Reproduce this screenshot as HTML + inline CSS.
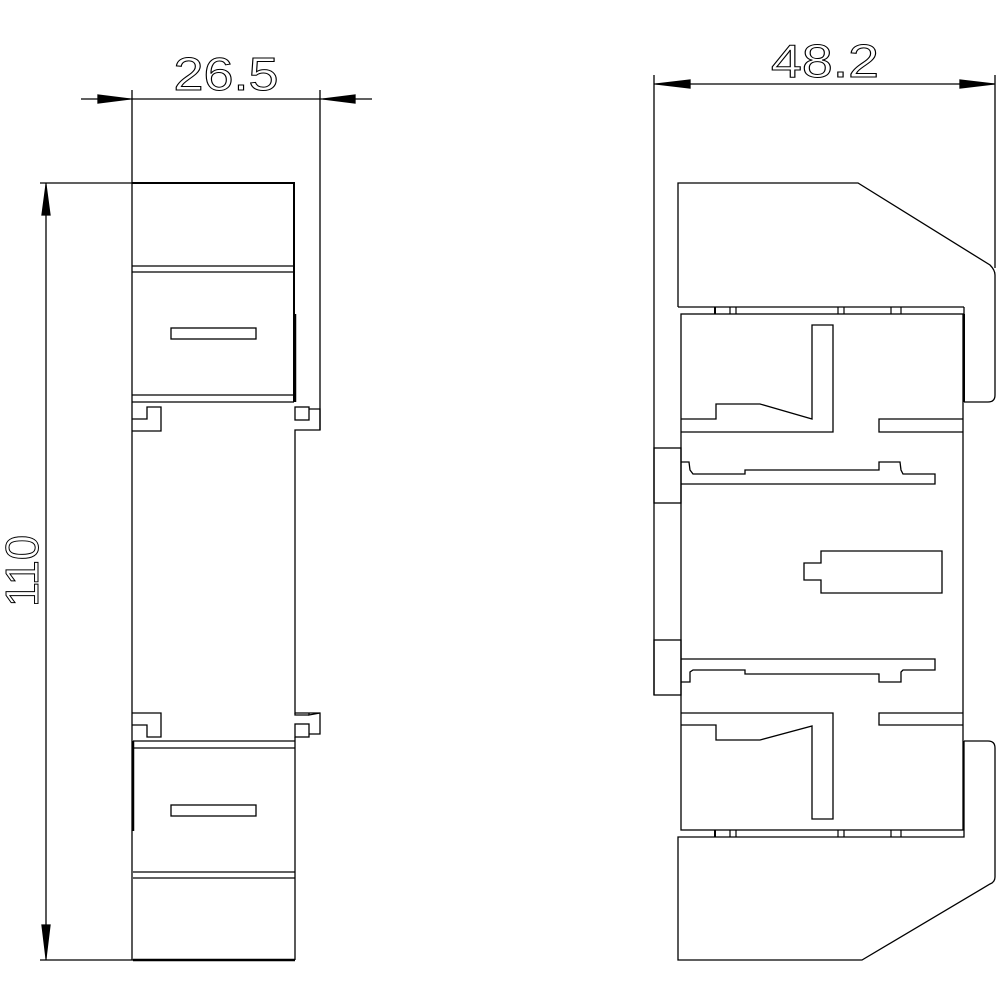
<!DOCTYPE html>
<html><head><meta charset="utf-8"><style>html,body{margin:0;padding:0;background:#fff}svg{display:block}</style></head>
<body>
<svg width="1000" height="1000" viewBox="0 0 1000 1000" xmlns="http://www.w3.org/2000/svg" fill="none" stroke="#000" stroke-width="1.3">
<!-- LEFT VIEW dims -->
<line x1="81" y1="99" x2="372" y2="99"/>
<line x1="132" y1="90" x2="132" y2="960"/>
<line x1="320" y1="90" x2="320" y2="430"/>
<polygon points="98,95 130,99 98,103" fill="#000"/>
<polygon points="355,95 323,99 355,103" fill="#000"/>
<text x="226" y="90" font-family="Liberation Sans, sans-serif" font-size="46" text-anchor="middle" textLength="105" lengthAdjust="spacingAndGlyphs" fill="none" stroke="#000" stroke-width="1">26.5</text>
<line x1="40" y1="183" x2="132" y2="183"/>
<line x1="40" y1="960" x2="133" y2="960"/>
<line x1="46" y1="183" x2="46" y2="960"/>
<polygon points="42,215 46,185 50,215" fill="#000"/>
<polygon points="42,925 46,958 50,925" fill="#000"/>
<text transform="translate(38,571) rotate(-90)" x="0" y="0" font-family="Liberation Sans, sans-serif" font-size="46" text-anchor="middle" textLength="72" lengthAdjust="spacingAndGlyphs" fill="none" stroke="#000" stroke-width="1">110</text>
<!-- left body -->
<polyline points="132,183 294,183 294,402" stroke-width="2"/>
<line x1="132" y1="266" x2="294" y2="266"/>
<line x1="132" y1="272" x2="294" y2="272"/>
<rect x="171" y="328" width="85" height="11"/>
<line x1="132" y1="395" x2="294" y2="395"/>
<line x1="132" y1="402" x2="294" y2="402"/>
<line x1="295" y1="314" x2="295" y2="402" stroke-width="2.5"/>
<polyline points="132,419 147,419 147,407 161,407 161,431 132,431"/>
<rect x="295" y="407" width="14" height="13"/>
<polyline points="309,409 320,409 320,430 295,430 295,713 309,713"/>
<polyline points="132,713 161,713 161,737 147,737 147,725 132,725"/>
<polyline points="309,713 309,715 320,713"/>
<polyline points="309,713 320,713 320,734 309,734"/>
<polyline points="295,713 295,715 309,715"/>
<rect x="295" y="724" width="14" height="13"/>
<line x1="133" y1="741" x2="295" y2="741"/>
<line x1="133" y1="748" x2="295" y2="748"/>
<line x1="295" y1="737" x2="295" y2="960"/>
<line x1="133" y1="741" x2="133" y2="831" stroke-width="2.5"/>
<rect x="171" y="805" width="85" height="11"/>
<line x1="133" y1="872" x2="295" y2="872"/>
<line x1="133" y1="878" x2="295" y2="878"/>
<line x1="133" y1="960" x2="295" y2="960" stroke-width="2.5"/>
<!-- RIGHT VIEW dims -->
<line x1="654" y1="84" x2="995" y2="84"/>
<line x1="654" y1="75" x2="654" y2="695"/>
<line x1="995" y1="75" x2="995" y2="268"/>
<polygon points="690,80 656,84 690,88" fill="#000"/>
<polygon points="960,80 994,84 960,88" fill="#000"/>
<text x="825" y="77" font-family="Liberation Sans, sans-serif" font-size="46" text-anchor="middle" textLength="108" lengthAdjust="spacingAndGlyphs" fill="none" stroke="#000" stroke-width="1">48.2</text>
<!-- top block -->
<path d="M678,307 L678,183 L858,183 L990,265 Q995,270 995,275 L995,395 Q995,402 988,402 L964,402"/>
<line x1="678" y1="307" x2="964" y2="307"/>
<line x1="964" y1="307" x2="964" y2="402"/>
<g stroke-width="1.2">
<line x1="715" y1="307" x2="715" y2="314" stroke-width="2"/><line x1="730" y1="307" x2="730" y2="314"/><line x1="736" y1="307" x2="736" y2="314"/>
<line x1="838" y1="307" x2="838" y2="314"/><line x1="844" y1="307" x2="844" y2="314"/>
<line x1="891" y1="307" x2="891" y2="314"/><line x1="901" y1="307" x2="901" y2="314"/>
<line x1="715" y1="830" x2="715" y2="837" stroke-width="2"/><line x1="730" y1="830" x2="730" y2="837"/><line x1="736" y1="830" x2="736" y2="837"/>
<line x1="838" y1="830" x2="838" y2="837"/><line x1="844" y1="830" x2="844" y2="837"/>
<line x1="891" y1="830" x2="891" y2="837"/><line x1="901" y1="830" x2="901" y2="837"/>
</g>
<rect x="681" y="314" width="282" height="516"/>
<rect x="654" y="448" width="27" height="55"/>
<rect x="654" y="640" width="27" height="55"/>
<polyline points="681,419 716,404 716,404" stroke="none"/>
<polyline points="681,419 716,419 716,404 760,404 812,419 812,325 833,325 833,432 681,432"/>
<polyline points="963,419 879,419 879,432 963,432"/>
<polyline points="681,462 689,462 690,470 693,474 745,474 745,470 879,470 879,462 900,462 901,470 903,474 935,474 935,484 681,484"/>
<polygon points="821,551 942,551 942,593 821,593 821,580 804,580 804,563 821,563"/>
<polyline points="681,659 935,659 935,670 903,670 901,672 901,682 879,682 879,674 745,674 745,670 693,670 690,672 690,682 681,682"/>
<polyline points="681,713 833,713 833,819 812,819 812,726 760,740 716,740 716,725 681,725"/>
<polyline points="963,713 879,713 879,725 963,725"/>
<!-- bottom block -->
<path d="M964,741 L988,741 Q995,741 995,748 L995,877 Q995,882 990,884 L862,960 L678,960 L678,837 L964,837 L964,741"/>
<line x1="964" y1="314" x2="964" y2="402" stroke-width="2"/>
</svg>
</body></html>
